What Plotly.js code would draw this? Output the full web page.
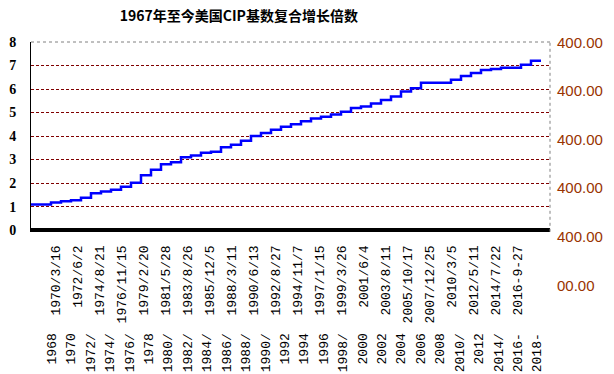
<!DOCTYPE html>
<html>
<head>
<meta charset="utf-8">
<script src="https://cdn.plot.ly/plotly-3.0.1.min.js"></script>
<style>
  html, body { margin: 0; padding: 0; background: #ffffff; }
  #chart { width: 614px; height: 374px; }
</style>
</head>
<body>
<div id="chart"></div>
<script>
// ---- data ----
const years = [1967, 1968, 1969, 1970, 1971, 1972, 1973, 1974, 1975, 1976,
               1977, 1978, 1979, 1980, 1981, 1982, 1983, 1984, 1985, 1986,
               1987, 1988, 1989, 1990, 1991, 1992, 1993, 1994, 1995, 1996,
               1997, 1998, 1999, 2000, 2001, 2002, 2003, 2004, 2005, 2006,
               2007, 2008, 2009, 2010, 2011, 2012, 2013, 2014, 2015, 2016,
               2017, 2018];
const growthMultiple = [1.09, 1.09, 1.18, 1.23, 1.27, 1.38, 1.57, 1.64, 1.72, 1.85,
                        2.02, 2.33, 2.57, 2.80, 2.89, 3.10, 3.17, 3.29, 3.33, 3.52,
                        3.63, 3.80, 4.00, 4.13, 4.27, 4.40, 4.50, 4.63, 4.75, 4.82,
                        4.92, 5.03, 5.19, 5.26, 5.39, 5.53, 5.68, 5.90, 6.03, 6.27,
                        6.27, 6.27, 6.39, 6.55, 6.68, 6.81, 6.85, 6.90, 6.90, 7.03,
                        7.20, 7.20];
const dateLabels = ["1970/3/16", "1972/6/2", "1974/8/21", "1976/11/15", "1979/2/20",
                    "1981/5/28", "1983/8/26", "1985/12/5", "1988/3/11", "1990/6/13",
                    "1992/8/27", "1994/11/7", "1997/1/15", "1999/3/26", "2001/6/4",
                    "2003/8/11", "2005/10/17", "2007/12/25", "2010/3/5", "2012/5/11",
                    "2014/7/22", "2016-9-27"];
const yearLabels = ["1968", "1970", "1972/", "1974/", "1976/", "1978", "1980/", "1982/",
                    "1984/", "1986/", "1988/", "1990/", "1992", "1994", "1996", "1998/",
                    "2000", "2002", "2004", "2006", "2008", "2010/", "2012", "2014/",
                    "2016-", "2018-"];
const leftTicks = [0, 1, 2, 3, 4, 5, 6, 7, 8];
const rightLabels = ["400.00", "400.00", "400.00", "400.00", "400.00", "00.00"];
const titleText = "1967年至今美国CIP基数复合增长倍数";

// ---- build ----
const idx = arr => arr.map((_, i) => i);
const nulls = arr => arr.map(() => null);

const traces = [
  {
    x: years, y: growthMultiple, xaxis: 'x', yaxis: 'y',
    type: 'scatter', mode: 'lines', line: { shape: 'hv', color: '#0000FF', width: 2.5 },
    hoverinfo: 'skip', showlegend: false
  },
  { x: idx(dateLabels), y: nulls(dateLabels), xaxis: 'x2', yaxis: 'y', type: 'scatter', mode: 'lines', hoverinfo: 'skip', showlegend: false },
  { x: idx(yearLabels), y: nulls(yearLabels), xaxis: 'x3', yaxis: 'y', type: 'scatter', mode: 'lines', hoverinfo: 'skip', showlegend: false },
  { x: [null], y: [null], xaxis: 'x', yaxis: 'y2', type: 'scatter', mode: 'lines', hoverinfo: 'skip', showlegend: false }
];

const monoFont = { family: 'Liberation Mono, DejaVu Sans Mono, monospace', size: 13, color: '#000000' };

const layout = {
  width: 614, height: 374,
  margin: { l: 31, r: 64, t: 42, b: 20 },
  paper_bgcolor: '#ffffff',
  plot_bgcolor: 'rgba(0,0,0,0)',
  showlegend: false,
  title: {
    text: titleText,
    font: { family: 'Noto Sans CJK SC, sans-serif', size: 14, color: '#000000', weight: 'bold' },
    x: 0.389, xanchor: 'center', y: 0.958, yanchor: 'middle', xref: 'container', yref: 'container'
  },
  xaxis: {
    range: [1967, 2018.9], showticklabels: false, ticks: '', showgrid: false,
    zeroline: false, showline: false
  },
  xaxis2: {
    overlaying: 'x', anchor: 'y', side: 'bottom',
    range: [-1.136, 22.455], tickmode: 'array', tickvals: idx(dateLabels), ticktext: dateLabels,
    tickangle: -90, tickfont: monoFont, ticks: '', ticklabelstandoff: 10,
    showgrid: false, zeroline: false, showline: false
  },
  xaxis3: {
    overlaying: 'x', anchor: 'free', position: 0.078, side: 'bottom',
    range: [-1.066, 25.66], tickmode: 'array', tickvals: idx(yearLabels), ticktext: yearLabels,
    tickangle: -90, tickfont: monoFont, ticks: '', ticklabelstandoff: 0,
    showgrid: false, zeroline: false, showline: false
  },
  yaxis: {
    domain: [0.3917, 1], range: [-0.07, 8],
    tickmode: 'array', tickvals: leftTicks, ticktext: leftTicks.map(String),
    tickfont: { family: 'Liberation Serif, serif', size: 14, color: '#000000', weight: 'bold' },
    ticks: '', ticklabelstandoff: 11,
    showgrid: true, gridcolor: '#800000', griddash: '3px,2px', gridwidth: 1,
    showline: true, linecolor: '#000000', linewidth: 1,
    zeroline: true, zerolinecolor: '#000000', zerolinewidth: 4.5
  },
  yaxis2: {
    domain: [0.1731, 1], anchor: 'x', side: 'right',
    range: [5.30, -0.01], tickmode: 'array', tickvals: idx(rightLabels), ticktext: rightLabels,
    tickfont: { family: 'Liberation Sans, Arial, sans-serif', size: 15, color: '#993300' },
    ticks: '', ticklabelstandoff: 6,
    showgrid: false, zeroline: false, showline: false
  },
  shapes: [
    { type: 'line', xref: 'x domain', yref: 'y domain', x0: 0, x1: 1, y0: 1, y1: 1,
      line: { color: '#ffffff', width: 1.5 } },
    { type: 'line', xref: 'x domain', yref: 'y domain', x0: 0, x1: 1, y0: 1, y1: 1,
      line: { color: '#808080', width: 1, dash: 'dot' } },
    { type: 'line', xref: 'x domain', yref: 'y domain', x0: 1, x1: 1, y0: 0, y1: 1,
      line: { color: '#808080', width: 1, dash: 'dot' } }
  ]
};

Plotly.newPlot('chart', traces, layout, { staticPlot: true, displayModeBar: false });
</script>
</body>
</html>
